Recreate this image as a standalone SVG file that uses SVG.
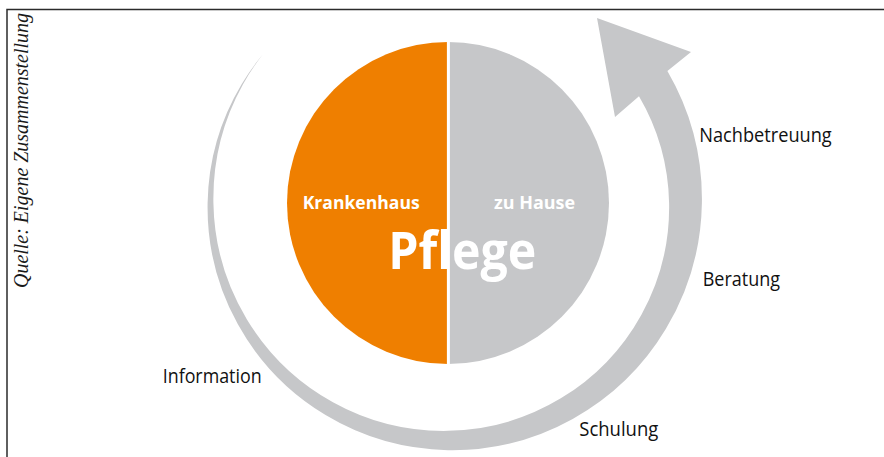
<svg xmlns="http://www.w3.org/2000/svg" width="884" height="457" viewBox="0 0 884 457">
  <style>
    .label { font-family: "Open Sans", "Noto Sans", "Liberation Sans", sans-serif; font-size: 20px; fill: #111111; }
    .inner { font-family: "Open Sans", "Noto Sans", "Liberation Sans", sans-serif; font-weight: bold; fill: #ffffff; }
    .source { font-family: "Liberation Serif", serif; font-style: italic; font-size: 20.5px; fill: #1a1a1a; }
    .ring { fill: #c6c7c9; }
  </style>
  <rect width="884" height="457" fill="#ffffff"/>

  <!-- frame: top and left rule -->
  <path d="M7,457 V9.5 H884" fill="none" stroke="#2b2b2b" stroke-width="1.5"/>

  <!-- vertical source note -->
  <text class="source" transform="translate(27.5,288) rotate(-90)" textLength="275" lengthAdjust="spacingAndGlyphs">Quelle: Eigene Zusammenstellung</text>

  <!-- central disk: hospital / home care -->
  <g id="pflege">
    <path d="M448,42 A161,161 0 0 0 448,364 Z" fill="#ef7f00"/>
    <path d="M448,42 A161,161 0 0 1 448,364 Z" fill="#c6c7c9"/>
    <line x1="448.4" y1="40" x2="448.4" y2="366" stroke="#ffffff" stroke-width="3"/>
    <text class="inner" x="302.7" y="209.3" font-size="17.5" textLength="117" lengthAdjust="spacingAndGlyphs">Krankenhaus</text>
    <text class="inner" x="494" y="209.3" font-size="17.5" textLength="81" lengthAdjust="spacingAndGlyphs">zu Hause</text>
    <text class="inner" x="388.3" y="269" font-size="52" textLength="148" lengthAdjust="spacingAndGlyphs">Pflege</text>
  </g>

  <!-- widening spiral arrow around the disk -->
  <g id="connectors">
    <path class="ring" d="M262.7,54.5
      A237.8,237.8 0 0 0 241.76,83.92
      A239.3,239.3 0 0 0 207.6,203
      A241.5,241.5 0 0 0 237.86,324.33
      A243.8,243.8 0 0 0 325.55,415.09
      A246,246 0 0 0 448,450.15
      A248.3,248.3 0 0 0 572.7,418.98
      A250.5,250.5 0 0 0 665.93,328.83
      A252.8,252.8 0 0 0 701.9,203
      A255,255 0 0 0 667.4,71.1
      L691,52 L597,18 L615,117 L639,96.2
      A220,220 0 0 1 669.1,203
      A222.2,222.2 0 0 1 641.42,314.68
      A224.5,224.5 0 0 1 560.8,398.37
      A226.7,226.7 0 0 1 448,430.85
      A229,229 0 0 1 332.95,402.27
      A231.2,231.2 0 0 1 246.78,319.18
      A233.5,233.5 0 0 1 213.4,203
      A235.7,235.7 0 0 1 242.88,84.57
      A237.2,237.2 0 0 1 262.7,54.5 Z"/>
  </g>

  <!-- stages along the arrow -->
  <g id="label-information">
    <text class="label" x="162.7" y="382.7" textLength="99" lengthAdjust="spacingAndGlyphs">Information</text>
  </g>
  <g id="label-schulung">
    <text class="label" x="579.3" y="436" textLength="79" lengthAdjust="spacingAndGlyphs">Schulung</text>
  </g>
  <g id="label-beratung">
    <text class="label" x="702.7" y="286" textLength="77.3" lengthAdjust="spacingAndGlyphs">Beratung</text>
  </g>
  <g id="label-nachbetreuung">
    <text class="label" x="699.3" y="142.3" textLength="132.4" lengthAdjust="spacingAndGlyphs">Nachbetreuung</text>
  </g>
</svg>
